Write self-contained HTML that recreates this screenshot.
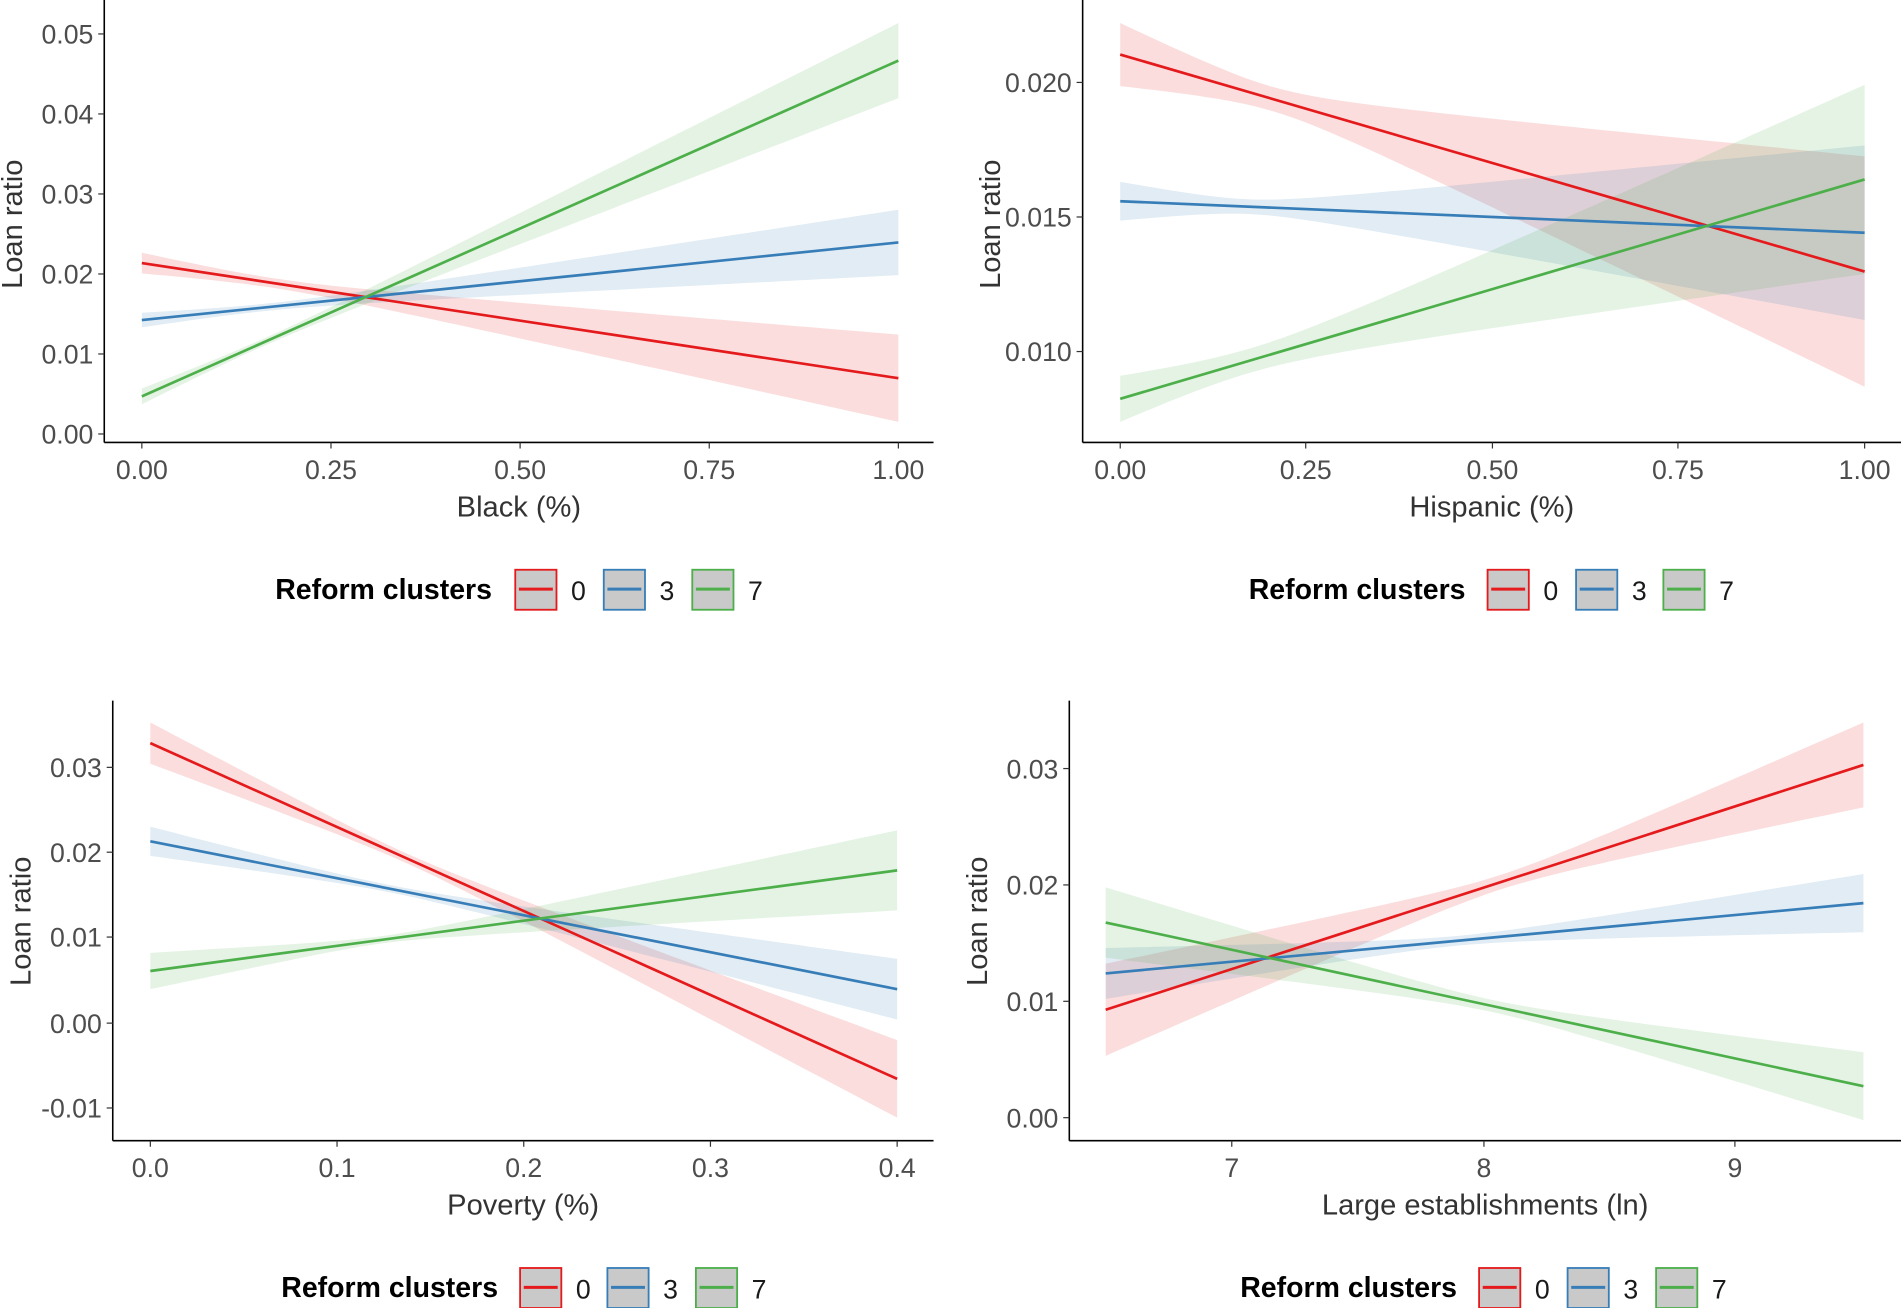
<!DOCTYPE html>
<html><head><meta charset="utf-8"><style>
html,body{margin:0;padding:0;background:#fff;width:1901px;height:1308px;overflow:hidden}
svg{display:block}
text{font-family:"Liberation Sans",Arial,sans-serif}
</style></head><body>
<svg id="s" width="1901" height="1308" viewBox="0 0 1568 1079" preserveAspectRatio="none" xmlns="http://www.w3.org/2000/svg"></svg>
<script>
var C={r:"#e41a1c",b:"#377eb8",g:"#4daf4a"};
var out="";
function band(x0,x1,y0,y1,ws,we,wm,col){
  var a=Math.sqrt(Math.max(ws*ws-wm*wm,0)),b=Math.sqrt(Math.max(we*we-wm*wm,0));
  var tm=a/(a+b||1),k=a>0?(ws*ws-wm*wm)/(tm*tm):(we*we-wm*wm)/((1-tm)*(1-tm));
  var top=[],bot=[];
  for(var i=0;i<=60;i++){var t=i/60,x=x0+(x1-x0)*t,y=y0+(y1-y0)*t,w=Math.sqrt(wm*wm+k*(t-tm)*(t-tm));
    top.push(x.toFixed(1)+","+(y-w).toFixed(1));bot.unshift(x.toFixed(1)+","+(y+w).toFixed(1));}
  out+='<polygon points="'+top.concat(bot).join(" ")+'" fill="'+col+'" fill-opacity="0.15"/>';
}
function line(x0,x1,y0,y1,col){out+='<line x1="'+x0+'" y1="'+y0+'" x2="'+x1+'" y2="'+y1+'" stroke="'+col+'" stroke-width="2.2"/>';}
function axes(ax,ayTop,axBot,axRight,xt,yt,xlab,ylabY,lblRight){
  out+='<line x1="'+ax+'" y1="'+ayTop+'" x2="'+ax+'" y2="'+axBot+'" stroke="#000" stroke-width="1.3"/>';
  out+='<line x1="'+ax+'" y1="'+axBot+'" x2="'+axRight+'" y2="'+axBot+'" stroke="#000" stroke-width="1.3"/>';
  xt.forEach(function(t){out+='<line x1="'+t[0]+'" y1="'+axBot+'" x2="'+t[0]+'" y2="'+(axBot+5)+'" stroke="#333"/>';
    out+='<text x="'+t[0]+'" y="'+(axBot+30)+'" font-size="22" fill="#4d4d4d" text-anchor="middle">'+t[1]+'</text>';});
  yt.forEach(function(t){out+='<line x1="'+(ax-5)+'" y1="'+t[0]+'" x2="'+ax+'" y2="'+t[0]+'" stroke="#333"/>';
    out+='<text x="'+(ax-9)+'" y="'+(t[0]+8)+'" font-size="22" fill="#4d4d4d" text-anchor="end">'+t[1]+'</text>';});
  out+='<text x="'+((ax+axRight)/2)+'" y="'+(axBot+61)+'" font-size="24" fill="#333" text-anchor="middle">'+xlab+'</text>';
  out+='<text transform="translate('+(ax-68)+','+ylabY+') rotate(-90)" font-size="24" fill="#333" text-anchor="middle">Loan ratio</text>';
}
function legend(tx,y,bx){
  out+='<text x="'+tx+'" y="'+(y+8)+'" font-size="23.5" font-weight="bold" fill="#000">Reform clusters</text>';
  [["r","0"],["b","3"],["g","7"]].forEach(function(c,i){var x=bx[i];
    out+='<rect x="'+x+'" y="'+(y-16)+'" width="34" height="33" fill="#c9c9c9" stroke="'+C[c[0]]+'" stroke-width="1.5"/>';
    out+='<line x1="'+(x+3)+'" y1="'+y+'" x2="'+(x+31)+'" y2="'+y+'" stroke="'+C[c[0]]+'" stroke-width="2.5"/>';
    out+='<text x="'+(x+46)+'" y="'+(y+9)+'" font-size="22" fill="#1a1a1a">'+c[1]+'</text>';});
}
// Panel 1
band(117,741,217,312,8.5,36,4,C.r);band(117,741,264,200,6,27,3,C.b);band(117,741,327,50,6.5,31,3,C.g);
line(117,741,217,312,C.r);line(117,741,264,200,C.b);line(117,741,327,50,C.g);
axes(86,0,365,770,[[117,"0.00"],[273,"0.25"],[429,"0.50"],[585,"0.75"],[741,"1.00"]],
 [[358,"0.00"],[292,"0.01"],[226,"0.02"],[160,"0.03"],[94,"0.04"],[28,"0.05"]],"Black (%)",185);
legend(227,486,[425,498,571]);
// Panel 2
band(924,1538,45,224,26,95,10,C.r);band(924,1538,166,192,16,72,6,C.b);band(924,1538,329,148,19,78,10,C.g);
line(924,1538,45,224,C.r);line(924,1538,166,192,C.b);line(924,1538,329,148,C.g);
axes(893,0,365,1568,[[924,"0.00"],[1077,"0.25"],[1231,"0.50"],[1384,"0.75"],[1538,"1.00"]],
 [[290,"0.010"],[179,"0.015"],[68,"0.020"]],"Hispanic (%)",185);
legend(1030,486,[1227,1300,1372]);
// Panel 3
band(124,740,613,890,17,32,4,C.r);band(124,740,694,816,12,25,3,C.b);band(124,740,801,718,15,33,3,C.g);
line(124,740,613,890,C.r);line(124,740,694,816,C.b);line(124,740,801,718,C.g);
axes(93,578,941,770,[[124,"0.0"],[278,"0.1"],[432,"0.2"],[586,"0.3"],[740,"0.4"]],
 [[914,"-0.01"],[844,"0.00"],[773,"0.01"],[703,"0.02"],[633,"0.03"]],"Poverty (%)",760);
legend(232,1062,[429,501,574]);
// Panel 4
band(912,1537,833,631,38,35,6,C.r);band(912,1537,803,745,21,24,4,C.b);band(912,1537,761,896,29,28,5,C.g);
line(912,1537,833,631,C.r);line(912,1537,803,745,C.b);line(912,1537,761,896,C.g);
axes(882,578,941,1568,[[1016,"7"],[1224,"8"],[1431,"9"]],
 [[922,"0.00"],[826,"0.01"],[730,"0.02"],[634,"0.03"]],"Large establishments (ln)",760);
legend(1023,1062,[1220,1293,1366]);
document.getElementById("s").innerHTML=out;
</script>
</body></html>
